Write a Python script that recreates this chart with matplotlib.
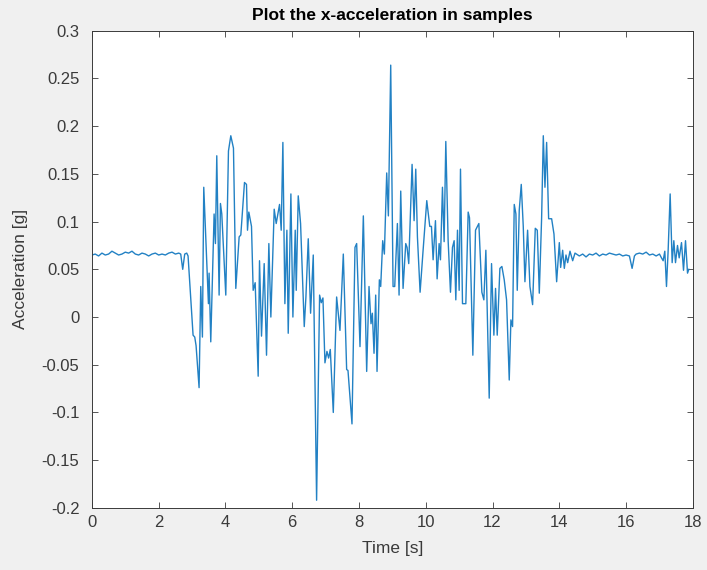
import matplotlib
matplotlib.use("Agg")
import matplotlib.pyplot as plt
from matplotlib.ticker import FixedLocator, FuncFormatter

# ---- data ----
flat_start_t = [round(0.1 * i, 2) for i in range(27)]
flat_start_v = [0.065, 0.066, 0.064, 0.067, 0.065, 0.066, 0.069, 0.067, 0.065,
                0.066, 0.068, 0.067, 0.069, 0.066, 0.065, 0.067, 0.066, 0.064,
                0.066, 0.067, 0.065, 0.066, 0.065, 0.067, 0.068, 0.066, 0.067]

active_t = [2.66, 2.72, 2.78, 2.84, 2.88, 3.03, 3.08, 3.12, 3.21, 3.26, 3.31, 3.35,
            3.49, 3.51, 3.56, 3.66, 3.70, 3.74, 3.81, 3.85, 3.89, 4.01, 4.09,
            4.16, 4.24, 4.31, 4.41, 4.46, 4.57, 4.63, 4.66, 4.70, 4.78, 4.83,
            4.89, 4.98, 5.02, 5.08, 5.16, 5.23, 5.30, 5.36, 5.46, 5.52, 5.62,
            5.67, 5.72, 5.78, 5.84, 5.88, 5.96, 6.02, 6.09, 6.12, 6.18, 6.25,
            6.36, 6.41, 6.48, 6.55, 6.63, 6.73, 6.82, 6.87, 6.92, 6.98, 7.04,
            7.09, 7.14, 7.23, 7.33, 7.43, 7.53, 7.63, 7.67, 7.79, 7.88, 7.93,
            8.03, 8.13, 8.23, 8.30, 8.36, 8.40, 8.45, 8.50, 8.54, 8.61, 8.65,
            8.71, 8.76, 8.83, 8.88, 8.95, 9.02, 9.07, 9.15, 9.20, 9.25, 9.32,
            9.40, 9.44, 9.49, 9.59, 9.65, 9.70, 9.75, 9.83, 9.92, 10.03, 10.12,
            10.17, 10.22, 10.29, 10.34, 10.40, 10.44, 10.50, 10.55, 10.60,
            10.67, 10.74, 10.80, 10.85, 10.90, 10.95, 11.00, 11.04, 11.10,
            11.17, 11.20, 11.27, 11.31, 11.41, 11.49, 11.59, 11.68, 11.74,
            11.80, 11.90, 11.97, 12.04, 12.09, 12.14, 12.22, 12.28, 12.35,
            12.42, 12.50, 12.55, 12.60, 12.65, 12.70, 12.74, 12.80, 12.86,
            12.92, 12.97, 13.05, 13.12, 13.20, 13.28, 13.34, 13.40, 13.47,
            13.52, 13.57, 13.62, 13.68, 13.77, 13.84, 13.92, 14.00, 14.04,
            14.10, 14.15, 14.20, 14.25, 14.32, 14.40, 14.47]
active_v = [0.066, 0.050, 0.066, 0.067, 0.064, -0.019, -0.021, -0.030, -0.074,
            0.032, -0.021, 0.136, 0.014, 0.046, -0.026, 0.108, 0.077, 0.169,
            0.023, 0.119, 0.108, 0.023, 0.174, 0.190, 0.177, 0.030, 0.084,
            0.086, 0.141, 0.139, 0.091, 0.110, 0.095, 0.028, 0.036, -0.062,
            0.059, -0.020, 0.056, -0.040, 0.077, 0.000, 0.113, 0.098, 0.118,
            0.091, 0.183, 0.014, 0.091, -0.017, 0.129, 0.000, 0.091, 0.028,
            0.127, 0.098, -0.010, 0.021, 0.082, 0.004, 0.065, -0.192, 0.023,
            0.015, 0.020, -0.048, -0.036, -0.043, -0.034, -0.100, 0.021,
            -0.014, 0.066, -0.055, -0.056, -0.112, 0.073, 0.077, -0.031,
            0.106, -0.057, 0.032, -0.007, 0.004, -0.038, 0.023, -0.057, 0.039,
            0.032, 0.080, 0.066, 0.151, 0.106, 0.264, 0.032, 0.032, 0.098,
            0.023, 0.132, 0.030, 0.077, 0.073, 0.056, 0.160, 0.101, 0.155,
            0.084, 0.026, 0.070, 0.122, 0.095, 0.095, 0.060, 0.101, 0.040,
            0.077, 0.060, 0.136, 0.079, 0.184, 0.080, 0.026, 0.073, 0.080,
            0.018, 0.091, 0.028, 0.155, 0.014, 0.014, 0.014, 0.110, 0.104,
            -0.040, 0.091, 0.098, 0.026, 0.018, 0.070, -0.085, 0.056, -0.019,
            0.030, -0.019, 0.051, 0.053, 0.039, 0.018, -0.066, -0.003, -0.010,
            0.118, 0.108, 0.028, 0.112, 0.139, 0.095, 0.037, 0.091, 0.032,
            0.013, 0.093, 0.091, 0.025, 0.104, 0.190, 0.136, 0.183, 0.103,
            0.103, 0.087, 0.037, 0.078, 0.052, 0.070, 0.051, 0.065, 0.057,
            0.069, 0.059, 0.067]

flat_end_t = [14.6, 14.7, 14.8, 14.9, 15.0, 15.1, 15.2, 15.3, 15.4, 15.5, 15.6,
              15.7, 15.8, 15.9, 16.0, 16.1, 16.18, 16.25, 16.3, 16.4, 16.5,
              16.6, 16.7, 16.8, 16.9, 17.0]
flat_end_v = [0.064, 0.066, 0.063, 0.066, 0.065, 0.067, 0.064, 0.066, 0.065,
              0.067, 0.066, 0.065, 0.066, 0.064, 0.065, 0.064, 0.051, 0.064,
              0.066, 0.067, 0.066, 0.068, 0.065, 0.066, 0.064, 0.066]

tail_t = [17.06, 17.11, 17.16, 17.21, 17.26, 17.32, 17.38, 17.43, 17.48, 17.54,
          17.59, 17.66, 17.72, 17.78, 17.84, 17.88]
tail_v = [0.062, 0.059, 0.069, 0.032, 0.070, 0.129, 0.057, 0.080, 0.057, 0.075,
          0.062, 0.078, 0.049, 0.080, 0.046, 0.050]

time_s = flat_start_t + active_t + flat_end_t + tail_t
accel_g = flat_start_v + active_v + flat_end_v + tail_v

x_ticks = [0, 2, 4, 6, 8, 10, 12, 14, 16, 18]
y_ticks = [-0.2, -0.15, -0.1, -0.05, 0, 0.05, 0.1, 0.15, 0.2, 0.25, 0.3]

# ---- figure ----
plt.rcParams['font.family'] = ['Liberation Sans', 'DejaVu Sans']
bg = '#f0f0f0'
axc = '#3a3a3a'
fig = plt.figure(figsize=(7.07, 5.70), dpi=100, facecolor=bg)
ax = fig.add_axes([0.130, 0.109, 0.850, 0.837])
ax.set_facecolor('white')

ax.plot(time_s, accel_g, color='#2281c4', linewidth=1.0)

ax.set_xlim(0, 18)
ax.set_ylim(-0.2, 0.3)
ax.xaxis.set_major_locator(FixedLocator(x_ticks))
ax.yaxis.set_major_locator(FixedLocator(y_ticks))
ax.yaxis.set_major_formatter(FuncFormatter(lambda v, p: ('%g' % round(v, 3))))
ax.xaxis.set_major_formatter(FuncFormatter(lambda v, p: ('%g' % v)))

ax.tick_params(direction='in', top=True, right=True, length=4, width=0.6,
               colors=axc, labelsize=12, labelcolor=axc)
ax.tick_params(axis='y', pad=9)
ax.tick_params(axis='x', pad=5)
for s in ax.spines.values():
    s.set_color(axc)
    s.set_linewidth(0.7)

ax.set_title('Plot the x-acceleration in samples', fontsize=12.5,
             fontweight='bold', color='black', pad=8)
ax.set_xlabel('Time [s]', fontsize=12.5, color=axc, labelpad=8)
ax.set_ylabel('Acceleration [g]', fontsize=12.5, color=axc, labelpad=10)

fig.savefig('out.png', dpi=100, facecolor=bg)
